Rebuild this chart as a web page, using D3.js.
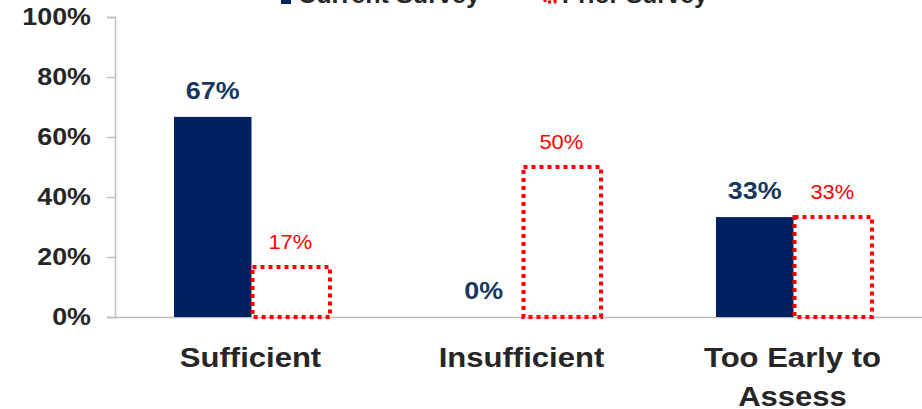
<!DOCTYPE html>
<html>
<head>
<meta charset="utf-8">
<script src="https://cdn.jsdelivr.net/npm/d3@7/dist/d3.min.js"></script>
<style>
  html, body { margin: 0; padding: 0; background: #fff; }
  svg { display: block; font-family: "Liberation Sans", Arial, sans-serif; }
</style>
</head>
<body>
<svg id="chart" width="922" height="409"></svg>
<script>
const categories = ["Sufficient", "Insufficient", "Too Early to\nAssess"];
const seriesNames = ["Current Survey", "Prior Survey"];
const currentValues = [0.667, 0, 0.333];
const priorValues = [0.167, 0.5, 0.333];
const yTicks = [0, 0.2, 0.4, 0.6, 0.8, 1.0];

const svg = d3.select("#chart");
const NAVY = "#002060", RED = "#ff0000", AXIS = "#bfbfbf", TXT = "#262626";

const y = d3.scaleLinear().domain([0, 1]).range([317, 17]);
const x0 = d3.scaleBand().domain(categories).range([115, 928]).padding(0);
const x1 = d3.scaleBand().domain(seriesNames).range([59, 214]).padding(0);

// helper: text stretched horizontally about its anchor point
function stretchedText(parent, x, yy, sx, str) {
  return parent.append("text")
    .attr("transform", `translate(${x},${yy}) scale(${sx},1)`)
    .text(str);
}

// y axis
const yAxis = svg.append("g").attr("transform", "translate(115,0)")
  .call(d3.axisLeft(y).tickValues(yTicks).tickSize(8).tickPadding(17)
        .tickFormat(d3.format(".0%")));
yAxis.selectAll("path, line").attr("stroke", AXIS).attr("stroke-width", 1.5);
yAxis.selectAll("text").attr("fill", TXT).attr("font-size", 24).attr("font-weight", "bold")
  .attr("font-family", "Liberation Sans, Arial, sans-serif")
  .attr("transform", "scale(1.12,1)").attr("x", -24 / 1.12 - 0);

// x baseline
const xAxis = svg.append("g").attr("transform", "translate(0,317)")
  .call(d3.axisBottom(x0).tickSize(0).tickFormat(""));
xAxis.select("path").attr("stroke", AXIS).attr("stroke-width", 1.5);

// category labels
categories.forEach(c => {
  const cx = x0(c) + x0.bandwidth() / 2;
  c.split("\n").forEach((l, i) => {
    stretchedText(svg, cx, 367 + i * 39, 1.15, l)
      .attr("text-anchor", "middle").attr("fill", TXT)
      .attr("font-size", 27).attr("font-weight", "bold");
  });
});

const fmt = d3.format(".0%");

// current bars
categories.forEach((c, i) => {
  const v = currentValues[i];
  const bx = x0(c) + x1("Current Survey");
  svg.append("rect").attr("x", bx).attr("y", y(v)).attr("width", x1.bandwidth())
    .attr("height", y(0) - y(v)).attr("fill", NAVY);
  stretchedText(svg, bx + x1.bandwidth() / 2, y(v) - 18, 1.12, fmt(v))
    .attr("text-anchor", "middle").attr("fill", "#17375e").attr("font-size", 24)
    .attr("font-weight", "bold");
});

// prior bars (dotted outline)
categories.forEach((c, i) => {
  const v = priorValues[i];
  const bx = x0(c) + x1("Prior Survey");
  svg.append("rect").attr("x", bx + 1).attr("y", y(v)).attr("width", x1.bandwidth())
    .attr("height", y(0) - y(v)).attr("fill", "#fff").attr("stroke", RED)
    .attr("stroke-width", 4).attr("stroke-dasharray", "4,4");
  stretchedText(svg, bx + x1.bandwidth() / 2, y(v) - 18, 1.04, fmt(v))
    .attr("text-anchor", "middle").attr("fill", RED).attr("font-size", 21);
});

// legend (cut off at top, as in the reference)
const lg = svg.append("g");
lg.append("rect").attr("x", 281).attr("y", -8).attr("width", 10).attr("height", 12).attr("fill", NAVY);
stretchedText(lg, 298, 3, 1.05, seriesNames[0]).attr("fill", TXT).attr("font-size", 24)
  .attr("font-weight", "bold");
lg.append("rect").attr("x", 545).attr("y", -8).attr("width", 10).attr("height", 10)
  .attr("fill", "none").attr("stroke", RED).attr("stroke-width", 3).attr("stroke-dasharray", "3,3");
stretchedText(lg, 562, 3, 1.02, seriesNames[1]).attr("fill", TXT).attr("font-size", 24)
  .attr("font-weight", "bold");
</script>
</body>
</html>
